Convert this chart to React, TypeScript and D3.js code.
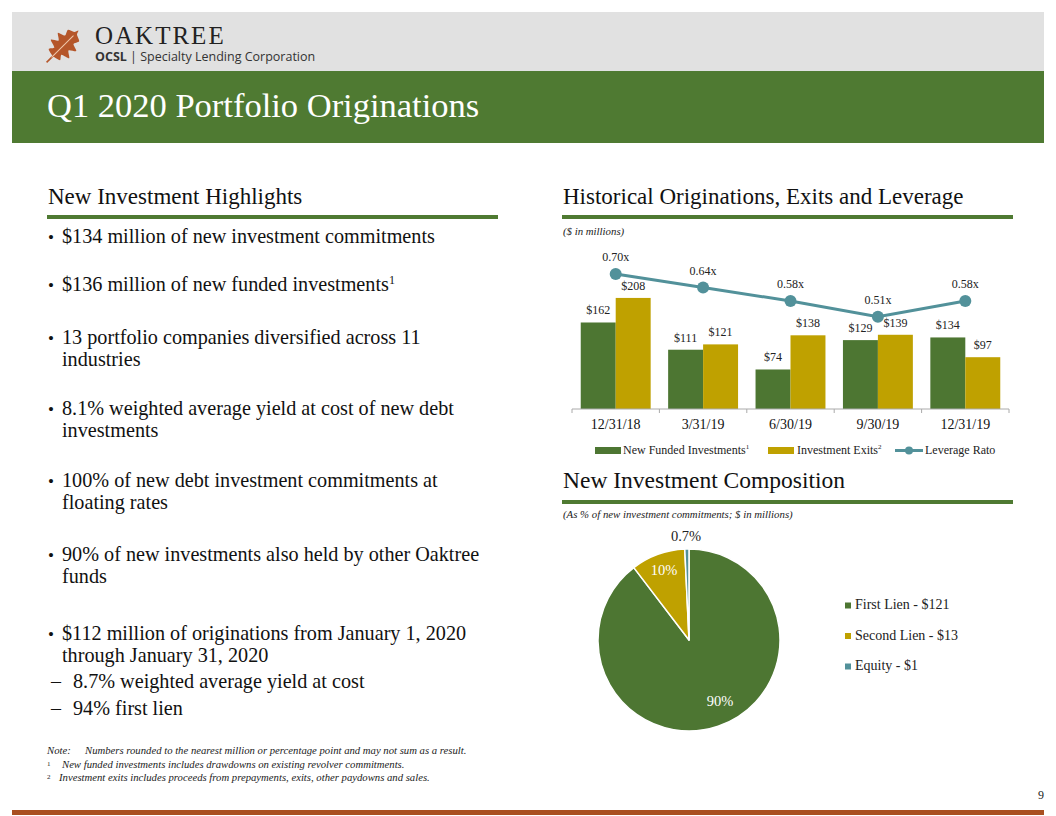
import React from "react";
import * as d3 from "d3";

const periods = ["12/31/18", "3/31/19", "6/30/19", "9/30/19", "12/31/19"];
const newFunded = [162, 111, 74, 129, 134];
const exits = [208, 121, 138, 139, 97];
const leverage = [0.70, 0.64, 0.58, 0.51, 0.58];

const pieLabels = ["First Lien - $121", "Second Lien - $13", "Equity - $1"];
const pieValues = [121, 13, 1];
const piePct = ["90%", "10%", "0.7%"];

const GREEN = "#4d7632";
const GOLD = "#bfa100";
const TEAL = "#52919a";
const ORANGE = "#a94f20";
const SERIF = "'Liberation Serif', 'DejaVu Serif', serif";
const SANS = "'Open Sans', 'Noto Sans', sans-serif";

function Leaf() {
  const right: [number, number][] = [
    [1.5, -7], [8, -9], [5, -14], [13, -17], [7, -22], [13, -27], [6, -30], [8, -36], [2, -39], [0, -43],
  ];
  const left = right.slice(0, -1).reverse().map(([x, y]) => [-x, y] as [number, number]);
  const pts = [...right, ...left];
  const line = d3.line().curve(d3.curveCardinalClosed.tension(0.3));
  return (
    <g transform="translate(48,61) rotate(45)">
      <path d={line(pts) || ""} fill="#b5562a" />
      <line x1={0} y1={2} x2={0} y2={-8} stroke="#b5562a" strokeWidth={1.6} />
      <path d="M0,-5 L0,-36" stroke="#f1c8ab" strokeWidth={1} fill="none" />
    </g>
  );
}

function BarChart() {
  const x0 = d3.scaleBand<string>().domain(periods).range([572, 1009]).paddingInner(0.2).paddingOuter(0.1);
  const x1 = d3.scaleBand<string>().domain(["a", "b"]).range([0, x0.bandwidth()]);
  const y = d3.scaleLinear().domain([0, 250]).range([409, 275.5]);
  const y2 = d3.scaleLinear().domain([0.4, 0.8]).range([341.4, 251.6]);
  const step = x0.step();
  const line = d3.line<number>().x((_, i) => (x0(periods[i]) || 0) + x0.bandwidth() / 2).y((d) => y2(d));
  return (
    <g fontFamily={SERIF}>
      {periods.map((p, i) => {
        const bx = x0(p) || 0;
        return (
          <g key={p}>
            <rect x={bx + (x1("a") || 0)} y={y(newFunded[i])} width={x1.bandwidth()} height={y(0) - y(newFunded[i])} fill={GREEN} />
            <rect x={bx + (x1("b") || 0)} y={y(exits[i])} width={x1.bandwidth()} height={y(0) - y(exits[i])} fill={GOLD} />
            <text x={bx + (x1("a") || 0) + x1.bandwidth() / 2} y={y(newFunded[i]) - 8} textAnchor="middle" fontSize={12} fill="#222">${newFunded[i]}</text>
            <text x={bx + (x1("b") || 0) + x1.bandwidth() / 2} y={y(exits[i]) - 8} textAnchor="middle" fontSize={12} fill="#222">${exits[i]}</text>
            <text x={bx + x0.bandwidth() / 2} y={429} textAnchor="middle" fontSize={14} fill="#111">{p}</text>
          </g>
        );
      })}
      <line x1={572} x2={1009} y1={409} y2={409} stroke="#aaa" strokeWidth={1} />
      {d3.range(periods.length + 1).map((i) => (
        <line key={i} x1={572 + i * step} x2={572 + i * step} y1={409} y2={413} stroke="#aaa" />
      ))}
      <path d={line(leverage) || ""} fill="none" stroke={TEAL} strokeWidth={3} />
      {leverage.map((v, i) => (
        <g key={i}>
          <circle cx={(x0(periods[i]) || 0) + x0.bandwidth() / 2} cy={y2(v)} r={6} fill={TEAL} />
          <text x={(x0(periods[i]) || 0) + x0.bandwidth() / 2} y={y2(v) - 13} textAnchor="middle" fontSize={12} fill="#222">{v.toFixed(2)}x</text>
        </g>
      ))}
      <g fontSize={12} fill="#222">
        <rect x={595} y={447} width={26} height={7} fill={GREEN} />
        <text x={623} y={454}>New Funded Investments<tspan fontSize={7} dy={-5}>1</tspan></text>
        <rect x={768} y={447} width={26} height={7} fill={GOLD} />
        <text x={797} y={454}>Investment Exits<tspan fontSize={7} dy={-5}>2</tspan></text>
        <line x1={895} x2={923} y1={450.5} y2={450.5} stroke={TEAL} strokeWidth={3} />
        <circle cx={909} cy={450.5} r={4} fill={TEAL} />
        <text x={925} y={454}>Leverage Rato</text>
      </g>
    </g>
  );
}

function PieChart() {
  const cx = 689, cy = 640, r = 91;
  const pie = d3.pie<number>().sort(null).value((d) => d)(pieValues);
  const arc = d3.arc<d3.PieArcDatum<number>>().innerRadius(0).outerRadius(r);
  const colors = [GREEN, GOLD, TEAL];
  const labelPos: [number, number, string][] = [
    [cx + 31, cy + 63, "#fff"],
    [cx - 25, cy - 68, "#fff"],
    [cx - 3, cy - 102, "#222"],
  ];
  return (
    <g fontFamily={SERIF}>
      <g transform={`translate(${cx},${cy})`}>
        {pie.map((d, i) => (
          <path key={i} d={arc(d) || ""} fill={colors[i]} stroke="#fff" strokeWidth={1.5} strokeLinejoin="round" />
        ))}
      </g>
      {piePct.map((t, i) => (
        <text key={t} x={labelPos[i][0]} y={labelPos[i][1]} textAnchor="middle" dominantBaseline="middle" fontSize={14.5} fill={labelPos[i][2]}>{t}</text>
      ))}
      {pieLabels.map((t, i) => (
        <g key={t}>
          <rect x={845} y={606 + i * 30.5 - 3.5} width={6} height={6} fill={colors[i]} />
          <text x={855} y={606 + i * 30.5} dominantBaseline="middle" fontSize={14} fill="#222">{t}</text>
        </g>
      ))}
    </g>
  );
}

const bulletLines: { t: string[]; y: number; sup?: string; dash?: boolean }[] = [
  { t: ["$134 million of new investment commitments"], y: 237 },
  { t: ["$136 million of new funded investments"], y: 285, sup: "1" },
  { t: ["13 portfolio companies diversified across 11", "industries"], y: 338 },
  { t: ["8.1% weighted average yield at cost of new debt", "investments"], y: 409 },
  { t: ["100% of new debt investment commitments at", "floating rates"], y: 481 },
  { t: ["90% of new investments also held by other Oaktree", "funds"], y: 555 },
  { t: ["$112 million of originations from January 1, 2020", "through January 31, 2020"], y: 634 },
  { t: ["8.7% weighted average yield at cost"], y: 682, dash: true },
  { t: ["94% first lien"], y: 709, dash: true },
];

export default function App() {
  return (
    <svg width={1056} height={816} style={{ position: "absolute", left: 0, top: 0 }}>
      <rect x={0} y={0} width={1056} height={816} fill="#fff" />
      <rect x={12} y={12} width={1032} height={59} fill="#e1e1e1" />
      <rect x={12} y={71} width={1032} height={72} fill="#4f7a32" />
      <Leaf />
      <text x={95} y={44} fontFamily={SERIF} fontSize={25} letterSpacing={2} fill="#222">OAKTREE</text>
      <text x={95} y={61} fontFamily={SANS} fontSize={12.5} fill="#333">
        <tspan fontWeight="bold">OCSL</tspan> | Specialty Lending Corporation
      </text>
      <text x={47} y={117} fontFamily={SERIF} fontSize={34.5} fill="#fff">Q1 2020 Portfolio Originations</text>

      <text x={48} y={204} fontFamily={SERIF} fontSize={23} fill="#111">New Investment Highlights</text>
      <rect x={47} y={215} width={451} height={4} fill="#4f7a32" />
      <text x={563} y={204} fontFamily={SERIF} fontSize={23} fill="#111">Historical Originations, Exits and Leverage</text>
      <rect x={562} y={215} width={451} height={4} fill="#4f7a32" />
      <text x={563} y={235} fontFamily={SERIF} fontSize={10.8} fontStyle="italic" fill="#222">($ in millions)</text>

      <text x={563} y={488} fontFamily={SERIF} fontSize={23.5} fill="#111">New Investment Composition</text>
      <rect x={562} y={500} width={451} height={4} fill="#4f7a32" />
      <text x={563} y={518} fontFamily={SERIF} fontSize={10.8} fontStyle="italic" fill="#222">(As % of new investment commitments; $ in millions)</text>

      <g fontFamily={SERIF} fontSize={20.2} fill="#111">
        {bulletLines.map((b, i) => (
          <g key={i}>
            <text x={b.dash ? 51 : 48} y={b.y + 6} fontSize={b.dash ? 20 : 17}>{b.dash ? "–" : "•"}</text>
            {b.t.map((l, j) => (
              <text key={j} x={b.dash ? 73 : 62} y={b.y + 6 + j * 21.5}>
                {l}
                {b.sup && j === b.t.length - 1 ? <tspan fontSize={12} dy={-7}>{b.sup}</tspan> : null}
              </text>
            ))}
          </g>
        ))}
      </g>

      <g fontFamily={SERIF} fontSize={10.7} fontStyle="italic" fill="#222">
        <text x={47} y={754}>Note:</text>
        <text x={85} y={754}>Numbers rounded to the nearest million or percentage point and may not sum as a result.</text>
        <text x={47} y={766} fontSize={7} fontStyle="normal">1</text>
        <text x={62} y={768}>New funded investments includes drawdowns on existing revolver commitments.</text>
        <text x={47} y={779} fontSize={7} fontStyle="normal">2</text>
        <text x={59} y={781}>Investment exits includes proceeds from prepayments, exits, other paydowns and sales.</text>
      </g>
      <text x={1044} y={799} textAnchor="end" fontFamily={SERIF} fontSize={12} fill="#222">9</text>
      <rect x={12} y={810} width={1032} height={5} fill={ORANGE} />

      <BarChart />
      <PieChart />
    </svg>
  );
}
